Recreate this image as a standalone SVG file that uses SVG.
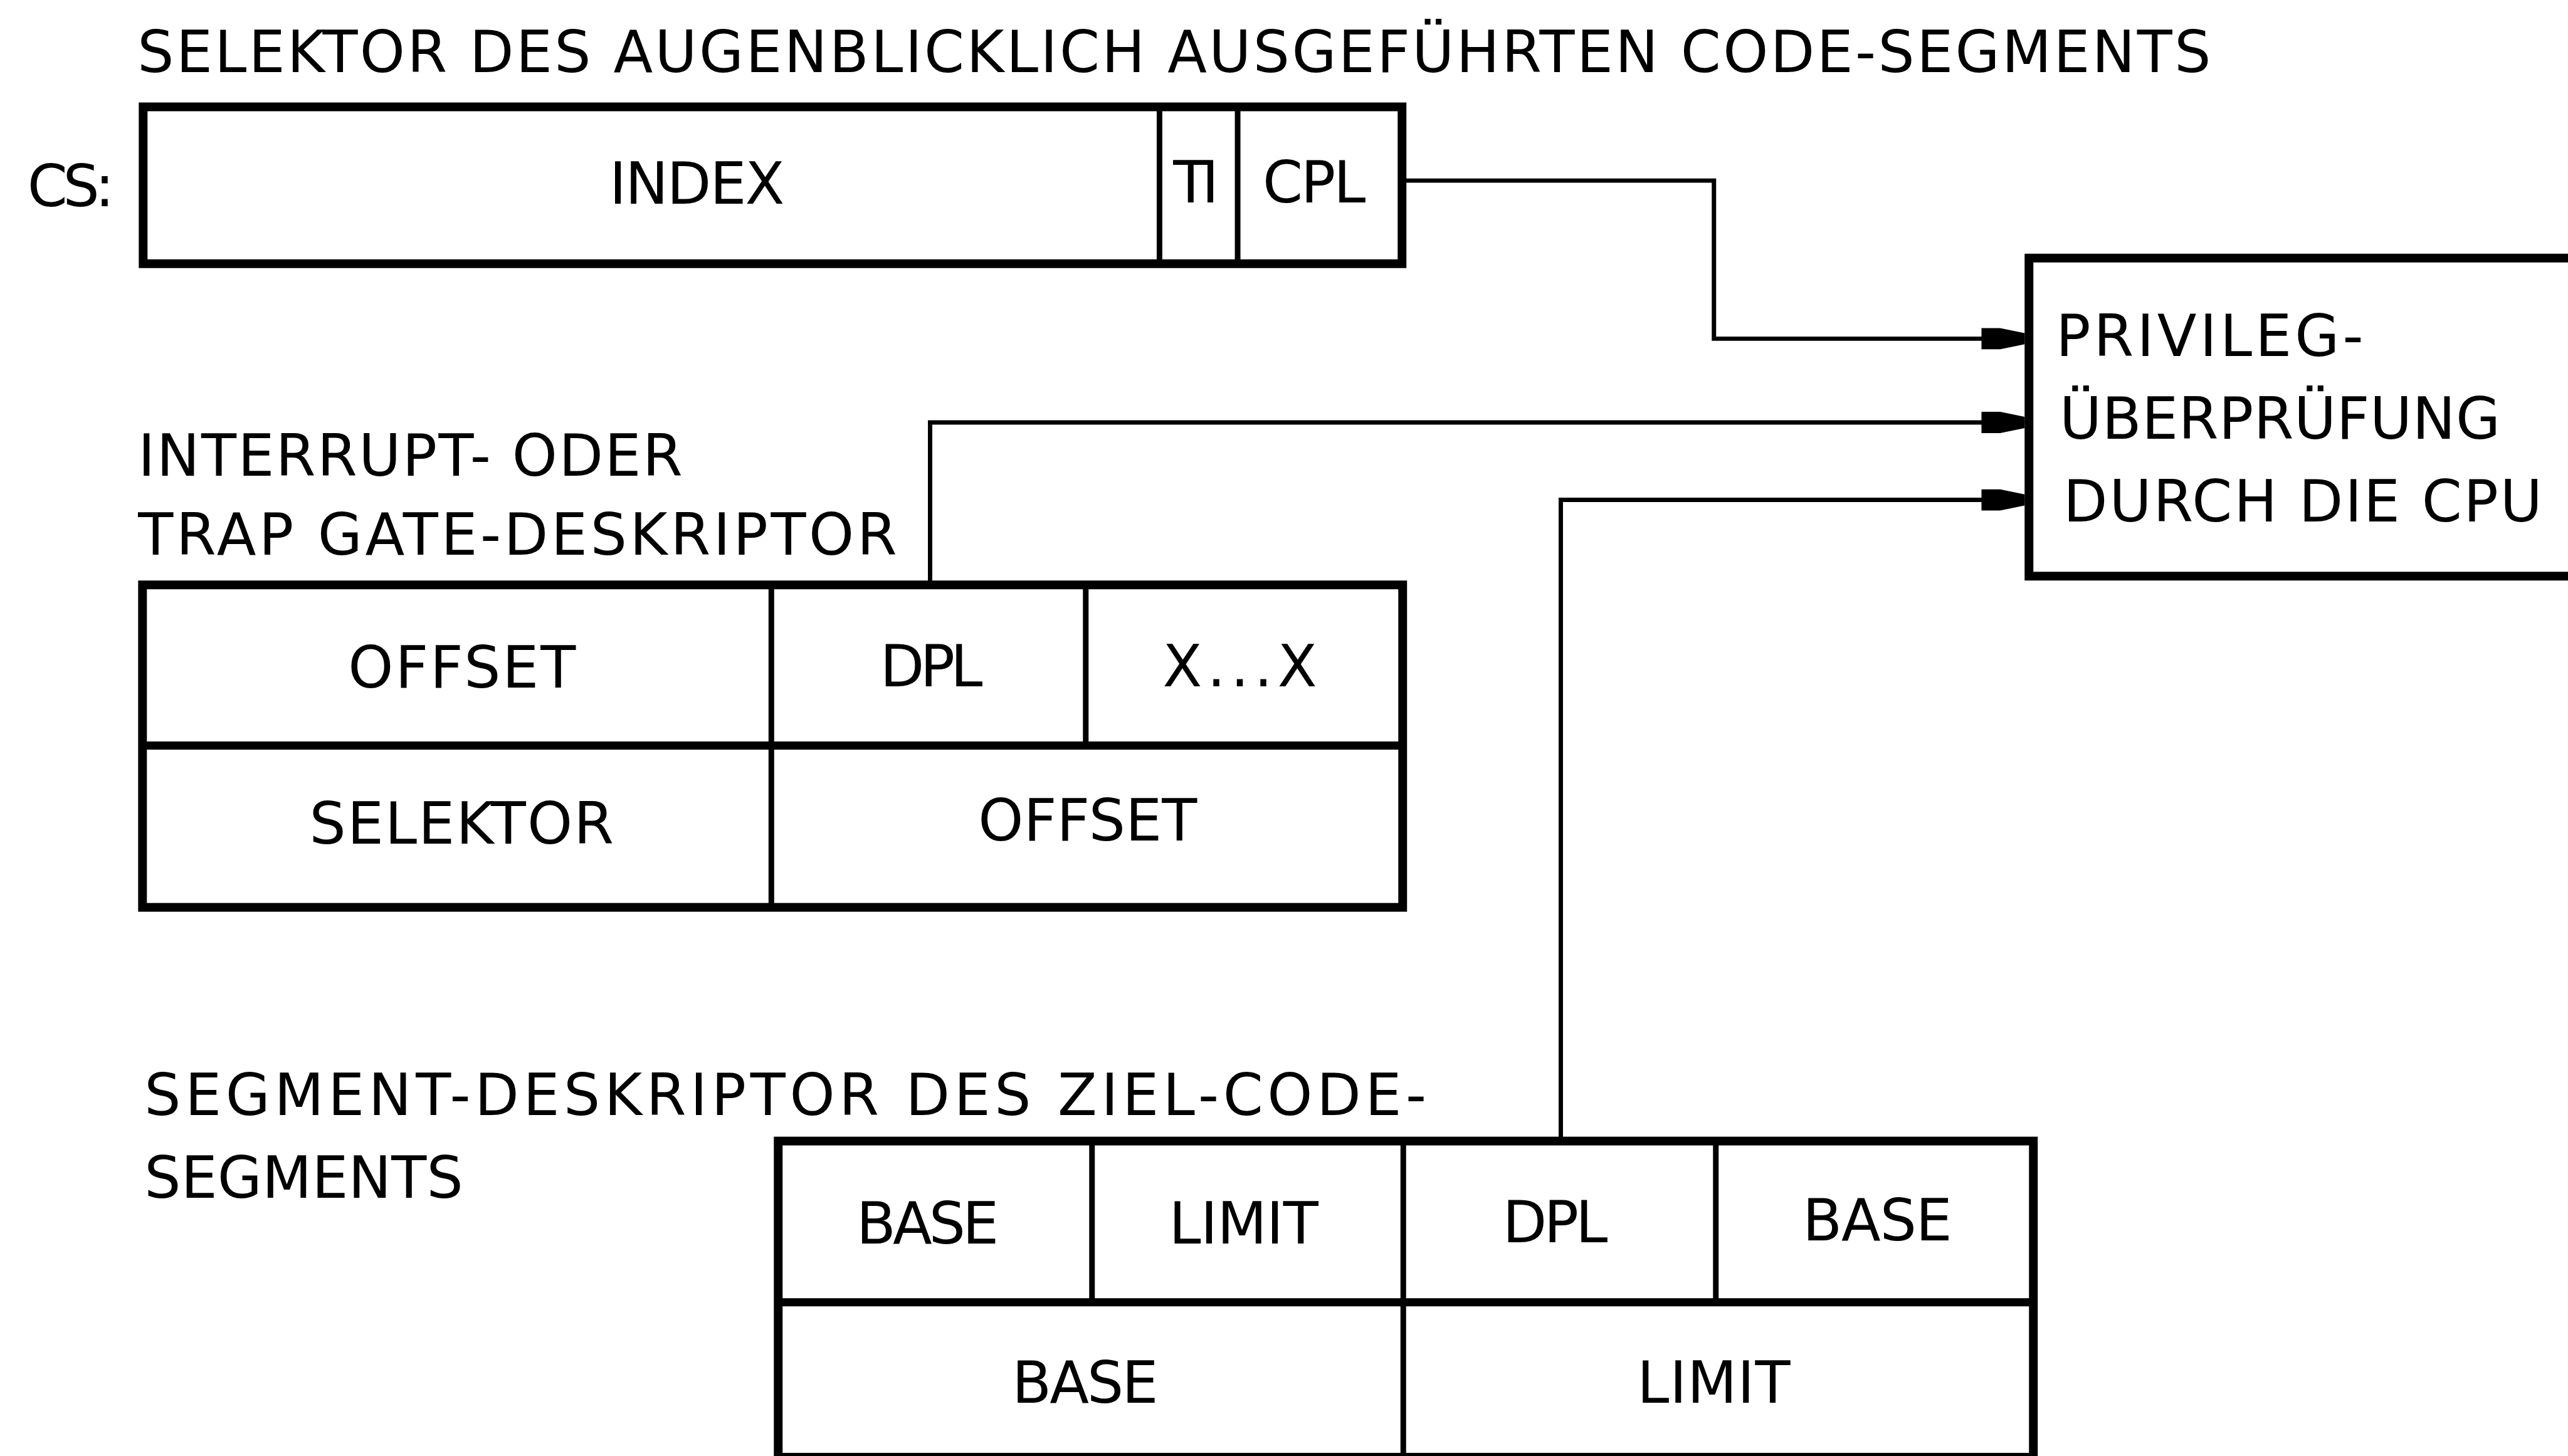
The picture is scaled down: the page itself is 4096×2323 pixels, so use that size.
<svg xmlns="http://www.w3.org/2000/svg" width="4096" height="2323" viewBox="0 0 4096 2323">
<style>
.t{font-family:"DejaVu Sans","Liberation Sans",sans-serif;font-size:92px;fill:#000}
.box{fill:none;stroke:#000;stroke-width:14}
.div{stroke:#000;stroke-width:9}
.conn{fill:none;stroke:#000;stroke-width:7}
</style>
<defs>
<marker id="ah" markerUnits="userSpaceOnUse" markerWidth="72" markerHeight="40" viewBox="0 0 72 40" refX="69" refY="20" orient="auto">
<path d="M0,3 L30,3 L69,11 L69,29 L30,37 L0,37 Z" fill="#000"/>
</marker>
</defs>
<rect width="4096" height="2323" fill="#fff"/>
<g transform="scale(0.997)">
<g id="title">
<text class="t" x="220" y="115" textLength="3317" lengthAdjust="spacing">SELEKTOR DES AUGENBLICKLICH AUSGEFÜHRTEN CODE-SEGMENTS</text>
</g>
<g id="cs-selector">
<text class="t" x="44" y="330" textLength="139" lengthAdjust="spacing">CS:</text>
<rect class="box" x="229" y="171" width="2014" height="251"/>
<line class="div" x1="1855" y1="171" x2="1855" y2="422"/>
<line class="div" x1="1980" y1="171" x2="1980" y2="422"/>
<text class="t" x="975" y="326" textLength="280" lengthAdjust="spacing">INDEX</text>
<text class="t" x="1877" y="324" textLength="73" lengthAdjust="spacing">TI</text>
<text class="t" x="2020" y="324" textLength="165" lengthAdjust="spacing">CPL</text>
</g>
<g id="gate-descriptor">
<text class="t" x="221" y="761" textLength="871" lengthAdjust="spacing">INTERRUPT- ODER</text>
<text class="t" x="221" y="888" textLength="1214" lengthAdjust="spacing">TRAP GATE-DESKRIPTOR</text>
<rect class="box" x="228" y="936" width="2016" height="516"/>
<line class="div" x1="228" y1="1193" x2="2244" y2="1193" style="stroke-width:13"/>
<line class="div" x1="1234" y1="936" x2="1234" y2="1452"/>
<line class="div" x1="1737" y1="936" x2="1737" y2="1193"/>
<text class="t" x="557" y="1100" textLength="364" lengthAdjust="spacing">OFFSET</text>
<text class="t" x="1408" y="1098" textLength="164" lengthAdjust="spacing">DPL</text>
<text class="t" x="1860" y="1098" textLength="247" lengthAdjust="spacing">X...X</text>
<text class="t" x="495" y="1350" textLength="487" lengthAdjust="spacing">SELEKTOR</text>
<text class="t" x="1565" y="1345" textLength="350" lengthAdjust="spacing">OFFSET</text>
</g>
<g id="segment-descriptor">
<text class="t" x="231" y="1784" textLength="2051" lengthAdjust="spacing">SEGMENT-DESKRIPTOR DES ZIEL-CODE-</text>
<text class="t" x="231" y="1917" textLength="510" lengthAdjust="spacing">SEGMENTS</text>
<rect class="box" x="1245" y="1826" width="2008" height="506"/>
<line class="div" x1="1245" y1="2084" x2="3253" y2="2084" style="stroke-width:13"/>
<line class="div" x1="1747" y1="1826" x2="1747" y2="2084"/>
<line class="div" x1="2245" y1="1826" x2="2245" y2="2332"/>
<line class="div" x1="2745" y1="1826" x2="2745" y2="2084"/>
<text class="t" x="1370" y="1990" textLength="228" lengthAdjust="spacing">BASE</text>
<text class="t" x="1870" y="1990" textLength="239" lengthAdjust="spacing">LIMIT</text>
<text class="t" x="2404" y="1988" textLength="168" lengthAdjust="spacing">DPL</text>
<text class="t" x="2884" y="1985" textLength="239" lengthAdjust="spacing">BASE</text>
<text class="t" x="1619" y="2245" textLength="234" lengthAdjust="spacing">BASE</text>
<text class="t" x="2619" y="2245" textLength="245" lengthAdjust="spacing">LIMIT</text>
</g>
<g id="privilege-check">
<rect class="box" x="3246" y="413" width="1000" height="509"/>
<text class="t" x="3289" y="570" textLength="492" lengthAdjust="spacing">PRIVILEG-</text>
<text class="t" x="3295" y="702" textLength="705" lengthAdjust="spacing">ÜBERPRÜFUNG</text>
<text class="t" x="3301" y="835" textLength="766" lengthAdjust="spacing">DURCH DIE CPU</text>
</g>
<g id="connectors">
<path class="conn" d="M2243,289 H2742 V542 H3239" marker-end="url(#ah)"/>
<path class="conn" d="M1488,936 V676 H3239" marker-end="url(#ah)"/>
<path class="conn" d="M2497,1826 V800 H3239" marker-end="url(#ah)"/>
</g>
</g>
</svg>
